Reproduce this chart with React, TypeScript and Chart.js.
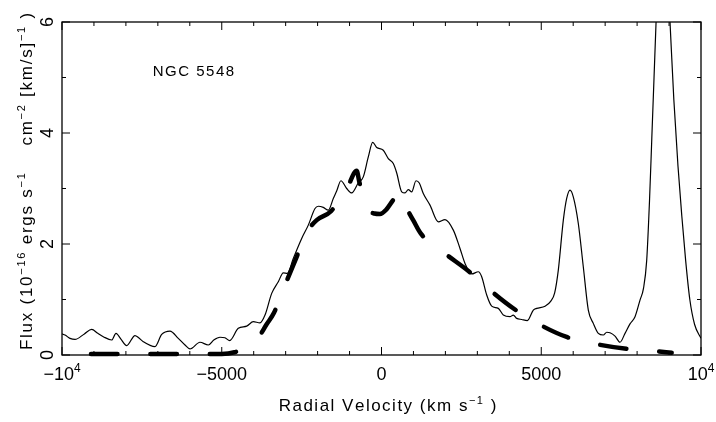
import React, { useEffect, useRef } from "react";
import { Chart, registerables } from "chart.js";

Chart.register(...registerables);

// Observed spectrum (radial velocity in km/s, flux in 1e-16 ergs/s/cm2/(km/s))
const velocity = [
  -10000, -9906, -9750, -9593, -9300, -9071, -8880, -8707, -8445, -8310, -8150, -7976, -7715, -7600,
  -7456, -7090, -6880, -6620, -6360, -6150, -5994, -5681, -5420, -5250, -5055, -4900, -4750, -4482,
  -4219, -4012, -3803, -3646, -3437, -3230, -3074, -2948, -2761, -2498, -2291, -2081, -1978, -1822,
  -1665, -1509, -1400, -1270, -1089, -933, -726, -570, -413, -276, -150, 56, 213, 369, 476, 632, 736,
  839, 945, 1080, 1183, 1308, 1518, 1778, 1988, 2248, 2457, 2614, 2823, 3030, 3136, 3293, 3449, 3656,
  3813, 4022, 4126, 4232, 4388, 4564, 4752, 4858, 5118, 5300, 5420, 5534, 5691, 5796, 5900, 6003,
  6160, 6316, 6473, 6629, 6786, 6942, 7050, 7152, 7309, 7465, 7622, 7778, 7935, 8091, 8200, 8300,
  8390, 8460, 8530, 8600, 8780, 9030, 9150, 9280, 9400, 9520, 9650, 9800, 10000,
];
const flux = [
  0.38, 0.36, 0.3, 0.28, 0.38, 0.46, 0.39, 0.33, 0.27, 0.39, 0.28, 0.17, 0.35, 0.31,
  0.24, 0.15, 0.37, 0.43, 0.3, 0.18, 0.11, 0.23, 0.18, 0.27, 0.32, 0.31, 0.26, 0.48,
  0.52, 0.6, 0.58, 0.72, 1.11, 1.32, 1.48, 1.47, 1.74, 2.1, 2.34, 2.64, 2.68, 2.66,
  2.61, 2.82, 2.96, 3.14, 3.0, 2.92, 3.1, 3.21, 3.57, 3.83, 3.74, 3.69, 3.54, 3.45, 3.28, 2.94, 2.92,
  2.98, 2.94, 3.14, 3.1, 2.91, 2.7, 2.4, 2.44, 2.25, 1.92, 1.65, 1.46, 1.5, 1.41, 1.08, 0.88, 0.84,
  0.72, 0.69, 0.72, 0.66, 0.64, 0.62, 0.81, 0.84, 0.88, 0.97, 1.12, 1.53, 2.43, 2.82, 2.97, 2.85,
  2.37, 1.59, 0.81, 0.57, 0.39, 0.36, 0.41, 0.4, 0.34, 0.23, 0.39, 0.56, 0.69, 0.99, 1.2, 1.7,
  2.8, 3.9, 5.0, 6.1, 8.9, 6.0, 4.6, 3.4, 2.5, 1.7, 1.0, 0.55, 0.3,
];

// Model profile (thick dashed line)
const modelVelocity = [
  -9093, -8000, -6500, -5000, -4600, -4300, -4100, -3884, -3600, -3365, -3020, -2654, -2291, -2028,
  -1581, -1060, -776, -695, -413, -220, -47, 150, 351, 548, 767, 1000, 1227, 1935, 2748, 3396, 4178,
  4909, 5816, 6683, 7675, 8560, 9083,
];
const modelFlux = [
  0.02, 0.02, 0.02, 0.02, 0.05, 0.12, 0.19, 0.29, 0.55, 0.76, 1.26, 1.77, 2.25, 2.43,
  2.59, 3.03, 3.32, 3.12, 2.62, 2.55, 2.54, 2.62, 2.78, 2.92, 2.66, 2.42, 2.19, 1.85, 1.5, 1.17, 0.82,
  0.56, 0.32, 0.2, 0.11, 0.07, 0.04,
];

const xRange = [-10000, 10000];
const yRange = [0, 6];
const xMajorStep = 5000;
const xMinorStep = 1000;
const yMajorStep = 2;
const yMinorStep = 1;
const xTickValues = [-10000, -5000, 0, 5000, 10000];
const xTickLabels = ["−10^{4}", "−5000", "0", "5000", "10^{4}"];
const yTickValues = [0, 2, 4, 6];
const yTickLabels = ["0", "2", "4", "6"];
const xTitle = "Radial Velocity (km s^{−1} )";
const yTitle = "Flux (10^{−16} ergs s^{−1}    cm^{−2} [km/s]^{−1} )";
const objectName = "NGC 5548";
const objectNamePos = [-7160, 5.03];

const INK = "#000";
const FONT = '"Liberation Sans", Arial, Helvetica, sans-serif';

function parseRich(text: string) {
  const segs: { t: string; sup: boolean }[] = [];
  const re = /\^\{([^}]*)\}/g;
  let last = 0;
  let m: RegExpExecArray | null;
  while ((m = re.exec(text))) {
    if (m.index > last) segs.push({ t: text.slice(last, m.index), sup: false });
    segs.push({ t: m[1], sup: true });
    last = m.index + m[0].length;
  }
  if (last < text.length) segs.push({ t: text.slice(last), sup: false });
  return segs;
}

function drawRich(
  ctx: CanvasRenderingContext2D,
  text: string,
  x: number,
  y: number,
  align: "left" | "center" | "right",
  size: number,
  spacing: number
) {
  const segs = parseRich(text);
  const fN = `${size}px ${FONT}`;
  const fS = `${Math.round(size * 0.65)}px ${FONT}`;
  ctx.textAlign = "left";
  ctx.textBaseline = "alphabetic";
  let total = 0;
  let count = 0;
  for (const s of segs) {
    ctx.font = s.sup ? fS : fN;
    for (const ch of s.t) {
      total += ctx.measureText(ch).width + spacing;
      count++;
    }
  }
  if (count) total -= spacing;
  let cx = align === "center" ? x - total / 2 : align === "right" ? x - total : x;
  for (const s of segs) {
    ctx.font = s.sup ? fS : fN;
    for (const ch of s.t) {
      ctx.fillText(ch, cx, s.sup ? y - size * 0.42 : y);
      cx += ctx.measureText(ch).width + spacing;
    }
  }
}

const framePlugin = {
  id: "pgFrame",
  afterDatasetsDraw(chart: any) {
    const { ctx, chartArea: a, scales } = chart;
    const xs = scales.x;
    const ys = scales.y;
    ctx.save();
    ctx.strokeStyle = INK;
    ctx.fillStyle = INK;
    ctx.lineWidth = 1.3;
    ctx.strokeRect(a.left, a.top, a.right - a.left, a.bottom - a.top);
    ctx.lineWidth = 1;
    ctx.beginPath();
    for (let v = xRange[0]; v <= xRange[1]; v += xMinorStep) {
      const px = xs.getPixelForValue(v);
      const len = v % xMajorStep === 0 ? 8 : 4;
      ctx.moveTo(px, a.bottom);
      ctx.lineTo(px, a.bottom - len);
      ctx.moveTo(px, a.top);
      ctx.lineTo(px, a.top + len);
    }
    for (let v = yRange[0]; v <= yRange[1]; v += yMinorStep) {
      const py = ys.getPixelForValue(v);
      const len = v % yMajorStep === 0 ? 8 : 4;
      ctx.moveTo(a.left, py);
      ctx.lineTo(a.left + len, py);
      ctx.moveTo(a.right, py);
      ctx.lineTo(a.right - len, py);
    }
    ctx.stroke();

    // x tick labels
    xTickValues.forEach((v, i) => {
      drawRich(ctx, xTickLabels[i], xs.getPixelForValue(v), a.bottom + 25, "center", 18, 0);
    });
    // y tick labels (rotated)
    yTickValues.forEach((v, i) => {
      ctx.save();
      ctx.translate(a.left - 9, ys.getPixelForValue(v));
      ctx.rotate(-Math.PI / 2);
      drawRich(ctx, yTickLabels[i], 0, 0, "center", 18, 0);
      ctx.restore();
    });
    // axis titles
    drawRich(ctx, xTitle, (a.left + a.right) / 2 + 6, a.bottom + 56, "center", 17, 1.5);
    ctx.save();
    ctx.translate(32, (a.top + a.bottom) / 2 - 7);
    ctx.rotate(-Math.PI / 2);
    drawRich(ctx, yTitle, 0, 0, "center", 17, 1.75);
    ctx.restore();
    // object label
    drawRich(
      ctx,
      objectName,
      xs.getPixelForValue(objectNamePos[0]),
      ys.getPixelForValue(objectNamePos[1]),
      "left",
      15,
      1.5
    );
    ctx.restore();
  },
};

export default function App() {
  const ref = useRef<HTMLCanvasElement>(null);
  useEffect(() => {
    document.body.style.margin = "0";
    const canvas = ref.current!;
    const chart = new Chart(canvas, {
      type: "line",
      data: {
        datasets: [
          {
            label: "Observed",
            data: velocity.map((v, i) => ({ x: v, y: flux[i] })),
            borderColor: INK,
            borderWidth: 1.2,
            pointRadius: 0,
            fill: false,
            cubicInterpolationMode: "monotone",
            clip: 0,
          },
          {
            label: "Model",
            data: modelVelocity.map((v, i) => ({ x: v, y: modelFlux[i] })),
            borderColor: INK,
            borderWidth: 4.5,
            borderDash: [26.5, 32.9],
            borderCapStyle: "round",
            pointRadius: 0,
            fill: false,
            cubicInterpolationMode: "monotone",
            clip: 4,
          },
        ],
      },
      options: {
        responsive: false,
        animation: false,
        devicePixelRatio: 1,
        layout: { padding: { left: 62, top: 22, right: 15, bottom: 67 } },
        plugins: { legend: { display: false }, tooltip: { enabled: false }, title: { display: false } },
        scales: {
          x: { type: "linear", min: xRange[0], max: xRange[1], display: false },
          y: { type: "linear", min: yRange[0], max: yRange[1], display: false },
        },
      },
      plugins: [framePlugin],
    } as any);
    return () => chart.destroy();
  }, []);
  return (
    <div style={{ width: 716, height: 422, overflow: "hidden", background: "#fff" }}>
      <canvas ref={ref} width={716} height={422} style={{ display: "block" }} />
    </div>
  );
}
